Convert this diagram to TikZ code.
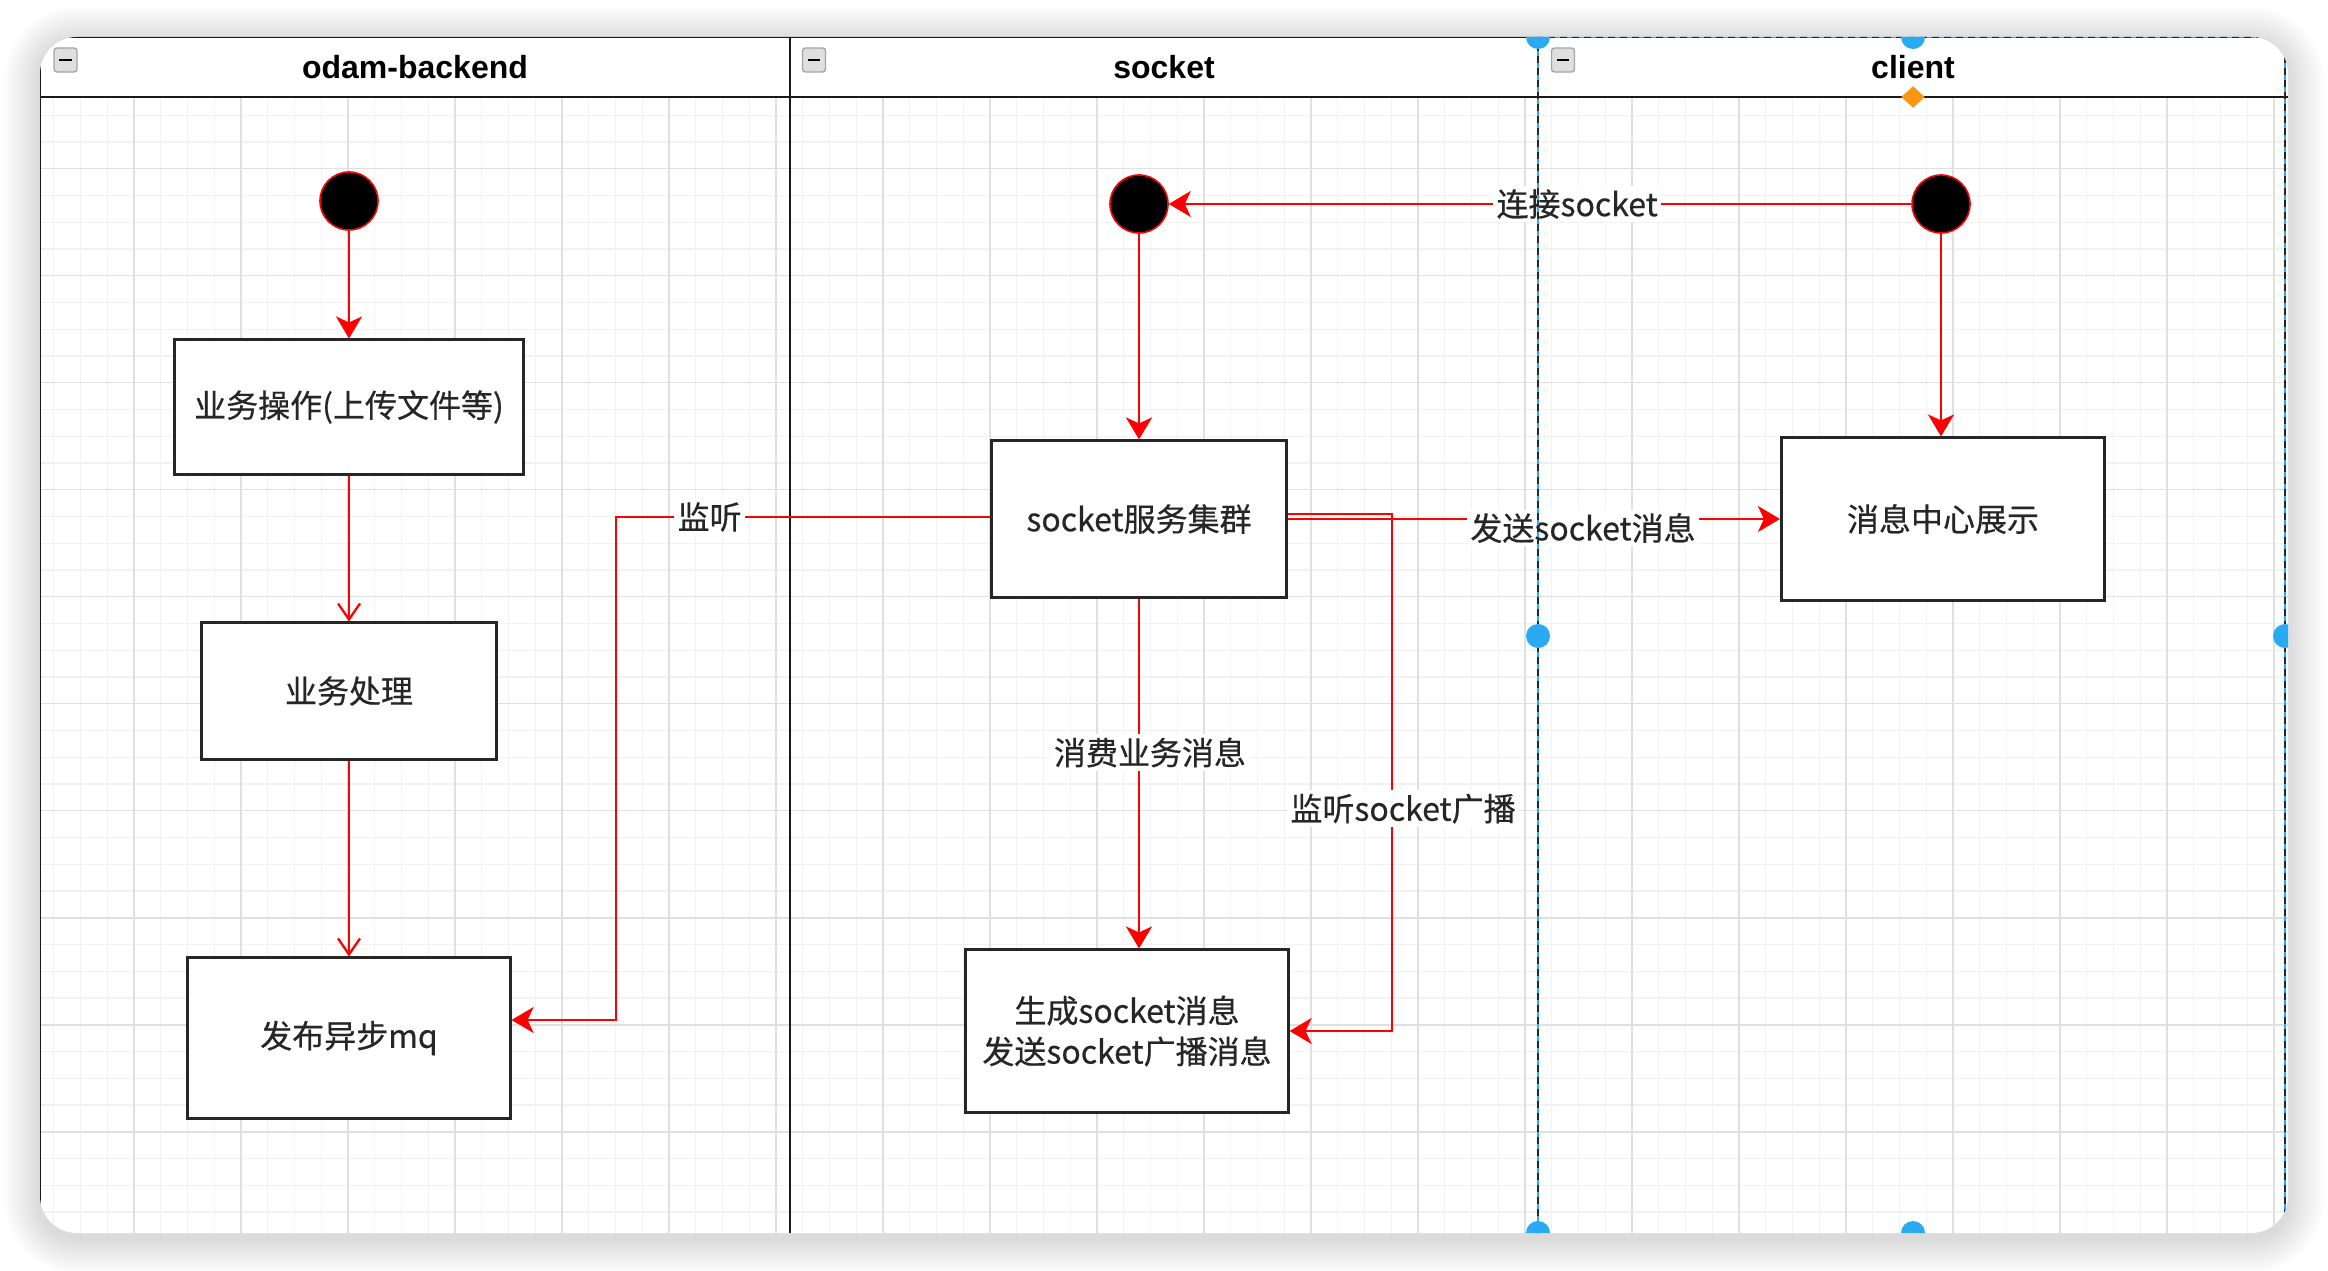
\documentclass[tikz,border=0pt]{standalone}
\usepackage{fontspec}
\setmainfont{Noto Sans CJK SC}[FakeBold=0.5]
\newfontfamily\lanefont{Liberation Sans}
\usetikzlibrary{arrows.meta,shapes.geometric,positioning}
\definecolor{flowRed}{RGB}{255,0,0}
\definecolor{selBlue}{RGB}{41,170,242}
\definecolor{handleOrange}{RGB}{250,150,20}
\newcommand{\bodysize}{\fontsize{9.1pt}{11.6pt}\selectfont}
\tikzset{
  lanetitle/.style={font=\lanefont\bfseries\fontsize{9.1pt}{11pt}\selectfont},
  lane/.style={draw=black!90,line width=0.75pt},
  gridminor/.style={draw=black!5,line width=0.35pt},
  gridmajor/.style={draw=black!12,line width=0.45pt},
  start/.style={circle,fill=black,draw=flowRed,line width=0.45pt,minimum size=0.58cm,inner sep=0pt},
  act/.style={draw=black!85,line width=0.85pt,fill=white,inner sep=0pt,align=center,
              font=\bodysize,text=black!85},
  flow/.style={color=flowRed,line width=0.65pt,-{Stealth[length=0.22cm,width=0.26cm,inset=0.06cm]}},
  openflow/.style={color=flowRed,line width=0.65pt,-{Straight Barb[length=0.16cm,width=0.22cm]}},
  tag/.style={fill=white,font=\bodysize,text=black!85,inner sep=1pt},
  minus/.style={draw=gray!70,fill=gray!25,rounded corners=0.03cm,minimum width=0.23cm,
                minimum height=0.24cm,inner sep=0pt,
                path picture={\draw[black,line width=0.6pt]
                  ([xshift=-0.06cm]path picture bounding box.center) --
                  ([xshift=0.06cm]path picture bounding box.center);}},
  selline/.style={selBlue,line width=0.6pt},
  seldash/.style={black!85,line width=0.6pt,dash pattern=on 0.07cm off 0.05cm},
}

\begin{document}
\begin{tikzpicture}[x=0.01cm,y=-0.01cm]
  \useasboundingbox (0,0) rectangle (2328,1270);

  % window shadow
  \foreach \k [evaluate=\k as \rr using 0.37+0.01*\k] in {2,4,...,36}
    \fill[black,opacity=0.007,rounded corners=\rr cm] (40-\k,42-\k) rectangle (2288+\k,1238+\k);
  \fill[white,rounded corners=0.37cm] (40,37) rectangle (2288,1233);

  \begin{scope}
  \clip[rounded corners=0.37cm] (40,37) rectangle (2288,1233);

  \foreach \i in {0,...,85}
    \draw[gridminor] ({27+26.75*\i},97) -- ({27+26.75*\i},1233);
  \foreach \j in {2,...,44}
    \draw[gridminor] (40,{61.7+26.75*\j}) -- (2288,{61.7+26.75*\j});
  \foreach \i in {0,...,21}
    \draw[gridmajor] ({27+107*\i},97) -- ({27+107*\i},1233);
  \foreach \j in {1,...,11}
    \draw[gridmajor] (40,{61.7+107*\j}) -- (2288,{61.7+107*\j});

  % swimlanes
  \draw[lane] (40,1233) -- (40,37) -- (1538,37);
  \draw[lane] (790,37) -- (790,1233);
  \draw[lane] (40,97) -- (2288,97);
  \node[lanetitle] (hodam) at (415,67) {odam-backend};
  \node[lanetitle] (hsock) at (1164,67) {socket};
  \node[lanetitle] (hclient) at (1913,67) {client};
  \node[minus] (modam) at (65.5,60) {};
  \node[minus] (msock) at (814,60) {};
  \node[minus] (mclient) at (1563,60) {};

  % nodes
  \node[start] (ostart) at (349,201) {};
  \node[act,minimum width=3.49cm,minimum height=1.34cm] (opbox) at (349,407) {业务操作(上传文件等)};
  \node[act,minimum width=2.95cm,minimum height=1.36cm] (dobox) at (349,691) {业务处理};
  \node[act,minimum width=3.22cm,minimum height=1.6cm] (mqbox) at (349,1038) {发布异步mq};
  \node[start] (sstart) at (1139,204) {};
  \node[act,minimum width=2.94cm,minimum height=1.56cm] (sockbox) at (1139,519) {socket服务集群};
  \node[act,minimum width=3.22cm,minimum height=1.62cm] (genbox) at (1127,1031)
    {生成socket消息\\发送socket广播消息};
  \node[start] (cstart) at (1941,204) {};
  \node[act,minimum width=3.23cm,minimum height=1.62cm] (msgbox) at (1943,519) {消息中心展示};

  \coordinate (lsnturn) at (616,517);
  \coordinate (bcturn) at (1392,514);

  % connectors
  \draw[flow] (ostart) -- (ostart |- opbox.north);
  \draw[openflow] (opbox) -- (dobox);
  \draw[openflow] (dobox) -- (mqbox);
  \draw[flow] (sockbox.west |- lsnturn) -- node[tag,pos=0.75]{监听} (lsnturn)
    |- ([yshift=0.18cm]mqbox.east);
  \draw[flow] (cstart) -- node[tag,pos=0.45]{连接socket} (sstart);
  \draw[flow] (sstart) -- (sockbox);
  \draw[flow] (cstart) -- (cstart |- msgbox.north);
  \draw[flow] (sockbox.south) -- node[tag,pos=0.44,xshift=0.11cm]{消费业务消息}
    (sockbox.south |- genbox.north);
  \draw[flow] (sockbox.east) -- node[tag,pos=0.6,yshift=-0.09cm]{发送socket消息} (msgbox.west);
  \draw[flow] (sockbox.east |- bcturn) -- (bcturn)
    -- node[tag,pos=0.57,xshift=0.11cm]{监听socket广播} (bcturn |- genbox.east) -- (genbox.east);

  % selected lane
  \draw[selline] (1538,1240) -- (1538,37) -- (2285,37) -- (2285,1240);
  \draw[seldash] (1538,1240) -- (1538,37) -- (2285,37) -- (2285,1240);
  \node[diamond,aspect=1,fill=handleOrange,minimum width=0.24cm,minimum height=0.22cm,
        inner sep=0pt] (hdiam) at (1913,97) {};
  \foreach \p in {(1538,37),(1913,37),(1538,636),(2285,636),(1538,1233),(1913,1233)}
    \fill[selBlue] \p circle (0.12cm);
  \end{scope}
\end{tikzpicture}
\end{document}
